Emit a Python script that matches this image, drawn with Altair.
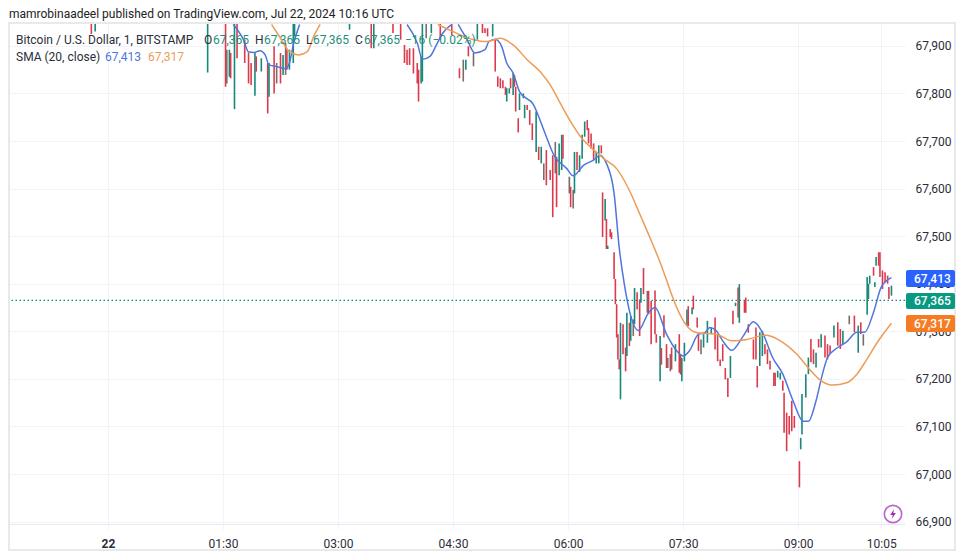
import altair as alt
import pandas as pd

FONT = "Roboto"
UP, DOWN, MIX = "#17887a", "#dc3a4c", "#7d6b68"
BLUE, ORANGE = "#4f76dc", "#ee9c55"

candle_minute = [
    -13,-10,78,92,93,95,96,99,101,107,110,112,115,116,120,125,126,130,132,135,137,139,140,142,145,146,189,206,208,223,229,232,234,236,239,242,243,245,246,249,253,260,269,275,278,280,282,286,289,293,295,297,301,
    303,305,307,309,311,312,314,315,317,318,319,321,322,325,326,328,330,332,335,337,339,341,343,346,348,350,351,353,355,356,361,362,364,365,367,369,371,373,375,376,378,380,382,384,386,
    387,389,390,391,393,394,396,397,398,399,400,401,403,405,406,408,409,411,412,414,416,417,419,422,423,425,428,429,432,433,435,437,438,440,441,444,447,448,449,451,453,454,457,458,461,462,464,466,469,472,475,477,479,481,483,485,487,489,491,493,494,498,499,501,
    505,507,508,510,512,514,516,518,521,522,524,526,528,529,531,533,535,537,541,542,543,546,548,550,552,554,556,558,561,563,565,568,571,573,575,580,584,587,589,591,594,595,596,599,600,601,603,604,606,608,610,611,613,
]
candle_high = [
    67960,67960,67960,67960,67892,67892,67885,67960,67960,67913,67885,67864,67885,67878,67874,67864,67864,67899,67864,67885,67881,67906,67892,67892,67960,67960,67960,67960,67960,67960,67960,67902,67892,67895,67895,67864,67850,67878,67960,67960,67960,67960,67960,67853,67871,67871,67899,67885,67960,67960,67937,67937,67960,
    67913,67836,67832,67828,67814,67811,67811,67832,67843,67839,67814,67748,67800,67800,67776,67776,67765,67737,67762,67688,67688,67653,67681,67639,67670,67698,67667,67695,67713,67713,67625,67604,67597,67677,67677,67670,67713,67741,67744,67727,67716,67695,67677,67691,67691,
    67592,67578,67536,67480,67515,67508,67466,67410,67357,67294,67241,67318,67315,67266,67339,67318,67332,67325,67391,67382,67367,67391,67433,67385,67385,67364,67386,67294,67290,67265,67334,67273,67244,67252,67266,67273,67294,67252,67244,67276,67346,67353,67350,67375,67329,67294,67283,67294,67322,67308,67329,67294,67241,67273,67223,67202,67248,67343,67360,67392,67399,67364,67371,67315,
    67283,67308,67227,67298,67301,67273,67262,67238,67213,67213,67217,67213,67196,67171,67129,67122,67154,67122,67027,67076,67168,67210,67245,67284,67262,67255,67284,67294,67291,67273,67270,67312,67319,67305,67301,67333,67333,67312,67319,67294,67414,67400,67417,67435,67403,67456,67466,67466,67428,67424,67417,67393,67396,
]
candle_low = [
    67925,67930,67844,67814,67821,67835,67832,67767,67874,67864,67821,67818,67795,67846,67846,67758,67793,67800,67821,67821,67839,67839,67850,67850,67864,67920,67934,67895,67895,67927,67913,67864,67860,67860,67842,67821,67783,67821,67825,67916,67927,67913,67923,67832,67825,67850,67878,67857,67913,67927,67927,67920,67920,
    67846,67814,67811,67811,67797,67783,67800,67811,67797,67814,67762,67718,67765,67790,67748,67765,67734,67702,67677,67660,67653,67618,67607,67618,67540,67632,67561,67628,67639,67663,67590,67561,67558,67590,67639,67635,67663,67709,67723,67695,67684,67660,67653,67653,67674,
    67498,67533,67473,67473,67498,67494,67410,67357,67287,67241,67220,67157,67252,67216,67248,67269,67280,67290,67315,67346,67290,67360,67378,67339,67336,67273,67294,67276,67195,67230,67287,67223,67223,67216,67220,67237,67213,67209,67195,67237,67311,67311,67336,67346,67308,67259,67252,67266,67276,67294,67262,67237,67227,67237,67199,67162,67202,67315,67353,67329,67318,67339,67339,67297,
    67241,67241,67182,67227,67248,67252,67231,67220,67185,67185,67203,67199,67175,67087,67048,67083,67090,67097,66972,67052,67083,67161,67210,67235,67231,67224,67266,67266,67245,67241,67252,67287,67270,67263,67273,67315,67298,67255,67294,67270,67335,67368,67400,67417,67393,67438,67438,67414,67389,67403,67400,67368,67375,
]
candle_dir = (
    "r g g r b g r g r r r r g r g r g r b r g b r g g g g r g r r r r r r r r g g b g r r r b g r b g r r r g "
    "r r r r r g g r g r r r g g g r r r g r g b r r r b r g g r b r b g r g g g r r r r g g r "
    "r g r g r r r r r r r g r r g r g b g r r g r b r r r r g r r r b b r g r r g g g r g r r r b g g g r r r r r r g r g r g r r r "
    "r r r g g r r r r r g g r r r r r r r g g g g r r g r g r r r g r r g b r g r b g g g r g g r r r r r r g"
).split()

fast_minute = [98,106,110,114,119,123,126,131,139,142,145,150,
               234,242,246,252,257,261,269,
               274,281,287,295,298,303,308,312,317,322,333,342,349,359,364,372,380,385,390,396,400,404,408,415,423,428,437,445,450,455,462,467,471,476,481,488,497,505,512,520,528,536,544,548,554,559,563,571,578,586,592,599,605,613]
fast_price = [67945,67913,67887,67886,67890,67881,67860,67857,67852,67864,67902,67945,
              67945,67906,67872,67878,67902,67923,67945,
              67945,67913,67885,67892,67909,67914,67899,67864,67843,67804,67776,67716,67670,67642,67627,67649,67660,67670,67653,67590,67476,67399,67343,67302,67339,67350,67294,67259,67248,67259,67294,67297,67308,67301,67280,67260,67290,67320,67298,67245,67210,67154,67111,67111,67154,67210,67245,67266,67278,67298,67298,67340,67393,67413]
fast_seg = [1]*12 + [2]*7 + [3]*54

slow_minute = [128,135,142,149,156,161,166,
               258,270,286,296,307,317,328,338,346,354,362,371,379,388,398,408,416,425,433,440,445,453,461,476,488,500,515,528,539,549,558,567,578,586,593,602,613]
slow_price = [67945,67916,67888,67881,67888,67920,67945,
              67945,67930,67913,67909,67916,67902,67871,67846,67818,67779,67741,67705,67684,67663,67642,67596,67547,67491,67438,67385,67350,67311,67297,67294,67280,67283,67292,67277,67252,67220,67196,67187,67192,67210,67238,67277,67317]
slow_seg = [1]*7 + [2]*37

x_ticks = [0,90,180,270,360,450,540,605]
x_labels = ["22","01:30","03:00","04:30","06:00","07:30","09:00","10:05"]
y_ticks = [66900,67000,67100,67200,67300,67400,67500,67600,67700,67800,67900]

assert len(candle_minute) == len(candle_high) == len(candle_low) == len(candle_dir), (
    len(candle_minute), len(candle_high), len(candle_low), len(candle_dir))
assert len(fast_minute) == len(fast_price) == len(fast_seg)
assert len(slow_minute) == len(slow_price) == len(slow_seg)

candles = pd.DataFrame({"m": candle_minute, "hi": candle_high, "lo": candle_low, "d": candle_dir})
fast = pd.DataFrame({"m": fast_minute, "p": fast_price, "s": fast_seg})
slow = pd.DataFrame({"m": slow_minute, "p": slow_price, "s": slow_seg})

label_expr = "{" + ",".join(f"'{t}':'{l}'" for t, l in zip(x_ticks, x_labels)) + "}[datum.value]"

xs = alt.Scale(domain=[-78.2, 623.6], nice=False, zero=False)
ys = alt.Scale(domain=[66895, 67946], nice=False, zero=False)

GRID = "#f0f3fa"
x_axis = alt.Axis(values=x_ticks, labelExpr=label_expr, title=None, grid=True, gridColor=GRID,
                  domainColor="#e6e8ee", tickColor=GRID, tickSize=5, labelPadding=9,
                  labelFont=FONT, labelFontSize=12, labelColor="#2a2e39", labelFlush=False,
                  labelOverlap=False,
                  labelFontWeight={"condition": {"test": "datum.value === 0", "value": "bold"}, "value": "normal"})
y_axis = alt.Axis(values=y_ticks, orient="right", format=",d", title=None, grid=True, gridColor=GRID,
                  domain=False, ticks=False, labelPadding=10, labelFont=FONT, labelFontSize=12,
                  labelColor="#2a2e39", labelOverlap=False)

wicks = alt.Chart(candles).mark_rule(strokeWidth=1.6, clip=True).encode(
    x=alt.X("m:Q", scale=xs, axis=x_axis),
    y=alt.Y("lo:Q", scale=ys, axis=y_axis),
    y2="hi:Q",
    color=alt.Color("d:N", legend=None,
                    scale=alt.Scale(domain=["g", "r", "b"], range=[UP, DOWN, MIX])),
)

def sma(df, color):
    return alt.Chart(df).mark_line(color=color, strokeWidth=1.5, clip=True, interpolate="monotone").encode(
        x=alt.X("m:Q", scale=xs), y=alt.Y("p:Q", scale=ys), detail="s:N")

last = alt.Chart(pd.DataFrame({"p": [67365]})).mark_rule(color="#0f8a78", strokeWidth=1.1, strokeDash=[1.5, 2.5]).encode(
    y=alt.Y("p:Q", scale=ys))

def text(s, x, y, color="#2a2e39", size=12, weight="normal"):
    return alt.Chart(pd.DataFrame({"t": [s]})).mark_text(
        align="left", baseline="middle", font=FONT, fontSize=size, color=color, fontWeight=weight
    ).encode(x=alt.value(x), y=alt.value(y), text="t:N")

def tag(s, y0, y1, color):
    rect = alt.Chart(pd.DataFrame({"t": [s]})).mark_rect(color=color, cornerRadius=2).encode(
        x=alt.value(898), x2=alt.value(947), y=alt.value(y0), y2=alt.value(y1))
    return rect + text(s, 906, (y0 + y1) / 2, "#ffffff", 12, 500)

frame = alt.Chart(pd.DataFrame({"t": [0]})).mark_rect(fill=None, stroke="#e9e9e9", strokeWidth=2, clip=False).encode(
    x=alt.value(1), x2=alt.value(947), y=alt.value(-1), y2=alt.value(526))

ring = alt.Chart(pd.DataFrame({"t": [0]})).mark_point(
    shape="circle", size=300, filled=False, color="#9c27b0", strokeWidth=1.6
).encode(x=alt.value(885), y=alt.value(490))
bolt = alt.Chart(pd.DataFrame({"t": [0]})).mark_point(
    shape="M0.12,-0.5L-0.28,0.1L-0.02,0.1L-0.12,0.5L0.28,-0.1L0.02,-0.1Z",
    size=400, filled=True, color="#9c27b0", opacity=1
).encode(x=alt.value(885), y=alt.value(490))

G = "#1f8f7c"
texts = [
    text("mamrobinaadeel published on TradingView.com, Jul 22, 2024 10:16 UTC", 1, -10, "#222222"),
    text("Bitcoin / U.S. Dollar, 1, BITSTAMP", 8, 16),
    text("O", 196, 16), text("67,365", 205, 16, G),
    text("H", 247, 16), text("67,365", 256, 16, G),
    text("L", 298, 16), text("67,365", 305, 16, G),
    text("C", 347, 16), text("67,365", 356, 16, G),
    text("\u221216 (\u22120.02%)", 397, 16, G),
    text("SMA (20, close)", 8, 33),
    text("67,413", 97, 33, BLUE),
    text("67,317", 140, 33, ORANGE),
]

chart = alt.layer(
    wicks, sma(fast, BLUE), sma(slow, ORANGE), last, frame,
    tag("67,413", 246, 263, "#2962ff"),
    tag("67,365", 269, 285, "#089981"),
    tag("67,317", 291, 308, "#f57c22"),
    ring, bolt, *texts,
).resolve_scale(color="independent").properties(
    width=897, height=500,
    padding={"left": 0, "top": 16, "right": 51, "bottom": 28},
    autosize=alt.AutoSizeParams(type="none"),
    background="white",
).configure_view(stroke=None)

chart.save("out.html", embed_options={"renderer": "svg", "actions": False})
